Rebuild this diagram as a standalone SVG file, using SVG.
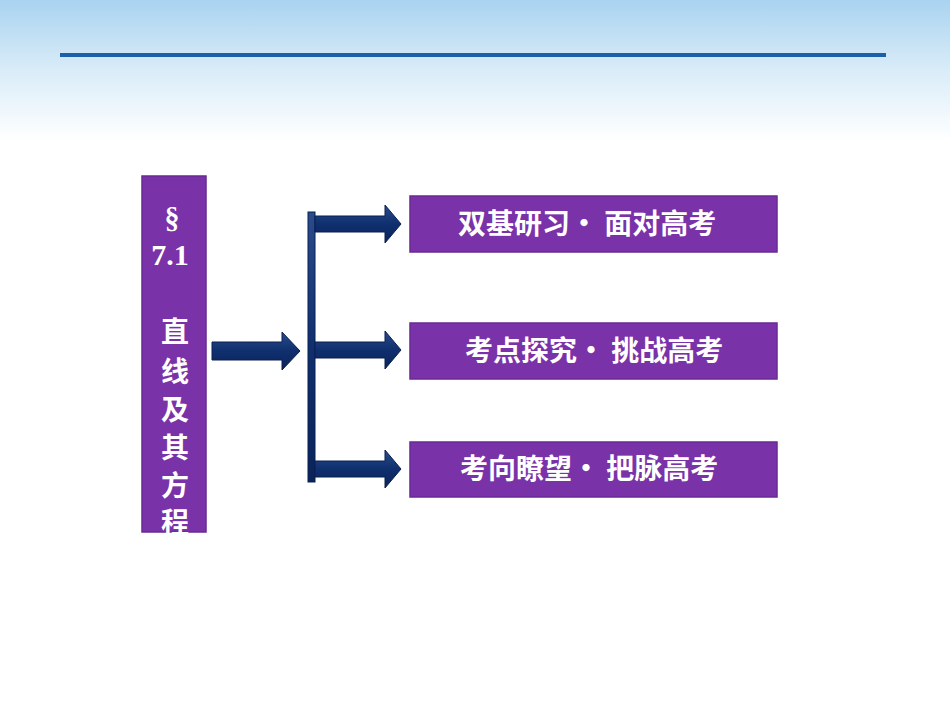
<svg xmlns="http://www.w3.org/2000/svg" width="950" height="713" viewBox="0 0 950 713">
<defs>
<linearGradient id="sky" x1="0" y1="0" x2="0" y2="1">
<stop offset="0" stop-color="#a9d3f0"/><stop offset="0.5" stop-color="#d9ecf8"/><stop offset="1" stop-color="#ffffff"/>
</linearGradient>
<linearGradient id="arr" x1="0" y1="0" x2="0" y2="1">
<stop offset="0" stop-color="#2a4c8c"/><stop offset="0.5" stop-color="#0f2f6e"/><stop offset="1" stop-color="#0a2459"/>
</linearGradient>
<style>
.box{fill:#7a32a8;stroke:#6a2a94;stroke-width:1.5}
.t{font-family:"Noto Sans CJK SC","Noto Sans",sans-serif;font-weight:bold;font-size:28px;fill:#fff}
.s{font-family:"Liberation Serif",serif;font-weight:bold;font-size:30px;fill:#fff}
.a{fill:url(#arr);stroke:#0a1f50;stroke-width:1}
</style>
</defs>
<rect width="950" height="713" fill="#fff"/>
<rect width="950" height="140" fill="url(#sky)"/>
<rect x="60" y="53" width="826" height="4" fill="#1a5fa8"/>
<g id="left">
<rect class="box" x="142" y="176" width="64" height="356"/>
<text class="s" x="172" y="228" text-anchor="middle">§</text>
<text class="s" x="170" y="265" text-anchor="middle">7.1</text>
<text class="t" x="175" y="342" text-anchor="middle">直</text>
<text class="t" x="175" y="382" text-anchor="middle">线</text>
<text class="t" x="175" y="420" text-anchor="middle">及</text>
<text class="t" x="175" y="458" text-anchor="middle">其</text>
<text class="t" x="175" y="496" text-anchor="middle">方</text>
<text class="t" x="175" y="533" text-anchor="middle">程</text>
</g>
<g id="connectors">
<path class="a" d="M212 342 H282 V332 L300 351 L282 370 V360 H212 Z"/>
<rect class="a" x="308" y="212" width="7" height="270"/>
<path class="a" d="M315 216 H385 V205 L401 224 L385 243 V232 H315 Z"/>
<path class="a" d="M315 342 H385 V331 L401 350 L385 369 V358 H315 Z"/>
<path class="a" d="M315 461 H385 V450 L401 469 L385 488 V477 H315 Z"/>
</g>
<g id="b1"><rect class="box" x="410" y="196" width="367" height="56"/>
<text class="t" x="458" y="234">双基研习• 面对高考</text></g>
<g id="b2"><rect class="box" x="410" y="323" width="367" height="56"/>
<text class="t" x="465" y="361">考点探究• 挑战高考</text></g>
<g id="b3"><rect class="box" x="410" y="442" width="367" height="55"/>
<text class="t" x="460" y="479">考向瞭望• 把脉高考</text></g>
</svg>
